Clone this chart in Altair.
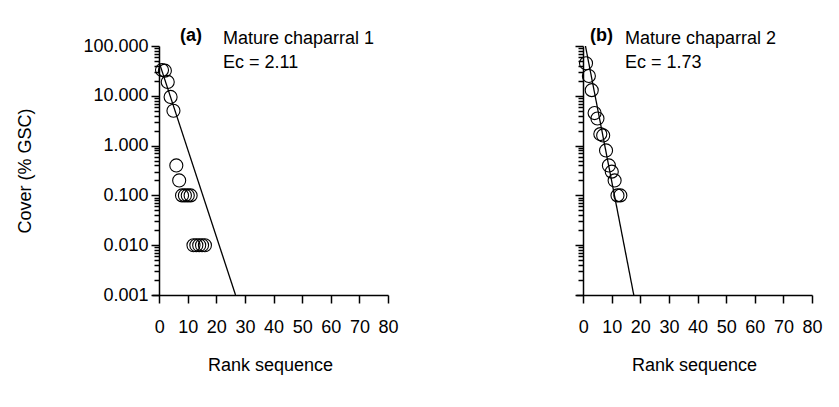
import altair as alt
import pandas as pd

# ---- data ----
rank_a = list(range(1, 17))
cover_a = [33, 32, 19, 9.5, 5, 0.4, 0.2, 0.1, 0.1, 0.1, 0.1, 0.01, 0.01, 0.01, 0.01, 0.01]
rank_b = list(range(1, 14))
cover_b = [45, 25, 13, 4.5, 3.5, 1.7, 1.6, 0.8, 0.4, 0.3, 0.2, 0.1, 0.1]

fit_a_x = [0, 26.7]
fit_a_y = [47, 0.001]
fit_b_x = [0.8, 17.7]
fit_b_y = [100, 0.001]

x_ticks = [0, 10, 20, 30, 40, 50, 60, 70, 80]
y_major = [0.001, 0.01, 0.1, 1, 10, 100]
y_minor_mult = [2, 3, 4, 5, 6, 7, 8, 9]

panel_tag = ["(a)", "(b)"]
panel_name = ["Mature chaparral 1", "Mature chaparral 2"]
panel_ec = ["Ec = 2.11", "Ec = 1.73"]

FONT = "Liberation Sans"
W, H = 236, 249
TAG_X = [28, 14]
NAME_X = [71, 49]

y_vals = sorted(set(y_major + [m * d for d in y_major[:-1] for m in y_minor_mult]))
is_major = "abs(log(datum.value)/LN10 - round(log(datum.value)/LN10)) < 0.001"


def panel(ranks, covers, fx, fy, idx, show_labels):
    pts = pd.DataFrame({"rank": ranks, "cover": covers})
    fit = pd.DataFrame({"rank": fx, "cover": fy})
    xsc = alt.Scale(domain=[-2.5, 80], nice=False, zero=False)
    ysc = alt.Scale(type="log", domain=[0.001, 100], nice=False)
    xax = alt.Axis(values=x_ticks, title="Rank sequence", grid=False, tickSize=8,
                   labelPadding=15, titlePadding=20, labelFlush=False, labelOverlap=False,
                   labelBound=False, labelSeparation=0)
    if show_labels:
        yax = alt.Axis(values=y_vals, grid=False, title="Cover (% GSC)",
                       labelExpr=f"{is_major} ? format(datum.value, '.3f') : ''",
                       tickSize={"condition": {"test": is_major, "value": 8}, "value": 5},
                       labelOverlap=False, labelPadding=3, titlePadding=48,
                       offset=-7, labelFlush=False)
    else:
        yax = alt.Axis(values=y_vals, grid=False, title=None, labels=False,
                       tickSize={"condition": {"test": is_major, "value": 8}, "value": 5},
                       offset=-7)
    enc_x = alt.X("rank:Q", scale=xsc, axis=xax)
    enc_y = alt.Y("cover:Q", scale=ysc, axis=yax)
    line = alt.Chart(fit).mark_line(color="black", strokeWidth=1.3, clip=True).encode(
        x=enc_x, y=enc_y)
    circ = alt.Chart(pts).mark_point(shape="circle", filled=False, size=170, color="black",
                                     strokeWidth=1.1, opacity=1).encode(x=enc_x, y=enc_y)
    lab = pd.DataFrame({"tag": [panel_tag[idx]], "name": [panel_name[idx]], "ec": [panel_ec[idx]]})
    t1 = alt.Chart(lab).mark_text(font=FONT, fontSize=18, fontWeight="bold", align="left",
                                  baseline="alphabetic", color="black").encode(
        x=alt.value(TAG_X[idx]), y=alt.value(-5), text="tag:N")
    t2 = alt.Chart(lab).mark_text(font=FONT, fontSize=18, align="left",
                                  baseline="alphabetic", color="black").encode(
        x=alt.value(NAME_X[idx]), y=alt.value(-2), text="name:N")
    t3 = alt.Chart(lab).mark_text(font=FONT, fontSize=18, align="left",
                                  baseline="alphabetic", color="black").encode(
        x=alt.value(NAME_X[idx]), y=alt.value(22), text="ec:N")
    return alt.layer(line, circ, t1, t2, t3).properties(width=W, height=H)


left = panel(rank_a, cover_a, fit_a_x, fit_a_y, 0, True)
right = panel(rank_b, cover_b, fit_b_x, fit_b_y, 1, False)

chart = alt.hconcat(left, right, spacing=175).properties(
    padding={"left": 16, "top": 27, "right": 5, "bottom": 5}
).configure_view(stroke=None).configure_axis(
    domainColor="black", domainWidth=1.5, tickColor="black", tickWidth=1.5,
    labelColor="black", labelFont=FONT, labelFontSize=18, titleFont=FONT,
    titleFontSize=18, titleColor="black", titleFontWeight="normal"
)

chart.save("out.html", embed_options={"renderer": "svg", "actions": False})
